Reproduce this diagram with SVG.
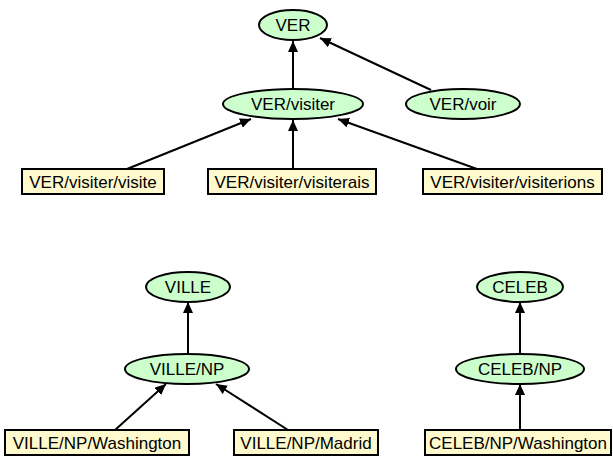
<svg xmlns="http://www.w3.org/2000/svg" width="613" height="457" viewBox="0 0 613 457">
<style>
.e{fill:#ccffcc;stroke:#000;stroke-width:2}
.b{fill:#fffacd;stroke:#000;stroke-width:2}
.t{font-family:"Liberation Sans",Arial,Helvetica,sans-serif;font-size:17px;fill:#000;text-anchor:middle}
.c{stroke:#000;stroke-width:2;fill:none;marker-end:url(#ah)}
</style>
<defs>
<marker id="ah" markerUnits="userSpaceOnUse" markerWidth="12" markerHeight="10" refX="11" refY="5" orient="auto">
<path d="M0,0 L11,5 L0,10 Z" fill="#000"/>
</marker>
</defs>
<rect width="613" height="457" fill="#fff"/>
<g id="connectors">
<path class="c" d="M293,89 L293,41"/>
<path class="c" d="M431,90 L320,38"/>
<path class="c" d="M127,169 L251,119"/>
<path class="c" d="M293,169 L293,120"/>
<path class="c" d="M477,169 L338,119"/>
<path class="c" d="M188,355 L188,302"/>
<path class="c" d="M115,430 L166,384"/>
<path class="c" d="M288,430 L216,384"/>
<path class="c" d="M520,354 L520,302"/>
<path class="c" d="M520,430 L520,384"/>
</g>
<g id="VER"><ellipse class="e" cx="293" cy="25" rx="34" ry="15"/><text class="t" x="293" y="31">VER</text></g>
<g id="VER_visiter"><ellipse class="e" cx="293" cy="104" rx="70" ry="15"/><text class="t" x="293" y="110">VER/visiter</text></g>
<g id="VER_voir"><ellipse class="e" cx="463" cy="104" rx="57" ry="15"/><text class="t" x="463" y="110">VER/voir</text></g>
<g id="VER_visiter_visite"><rect class="b" x="22" y="169" width="142" height="25"/><text class="t" x="93" y="187.5">VER/visiter/visite</text></g>
<g id="VER_visiter_visiterais"><rect class="b" x="208" y="169" width="168" height="25"/><text class="t" x="292" y="187.5">VER/visiter/visiterais</text></g>
<g id="VER_visiter_visiterions"><rect class="b" x="423" y="169" width="179" height="25"/><text class="t" x="512.5" y="187.5">VER/visiter/visiterions</text></g>
<g id="VILLE"><ellipse class="e" cx="188" cy="287" rx="42" ry="15"/><text class="t" x="188" y="293">VILLE</text></g>
<g id="VILLE_NP"><ellipse class="e" cx="187" cy="369" rx="62" ry="15"/><text class="t" x="187" y="375">VILLE/NP</text></g>
<g id="VILLE_NP_Washington"><rect class="b" x="5" y="430" width="184" height="25"/><text class="t" x="97" y="448.5">VILLE/NP/Washington</text></g>
<g id="VILLE_NP_Madrid"><rect class="b" x="234" y="430" width="144" height="25"/><text class="t" x="306" y="448.5">VILLE/NP/Madrid</text></g>
<g id="CELEB"><ellipse class="e" cx="520" cy="287" rx="43" ry="15"/><text class="t" x="520" y="293">CELEB</text></g>
<g id="CELEB_NP"><ellipse class="e" cx="520" cy="369" rx="64" ry="15"/><text class="t" x="520" y="375">CELEB/NP</text></g>
<g id="CELEB_NP_Washington"><rect class="b" x="425" y="430" width="186" height="25"/><text class="t" x="518" y="448.5">CELEB/NP/Washington</text></g>
</svg>
